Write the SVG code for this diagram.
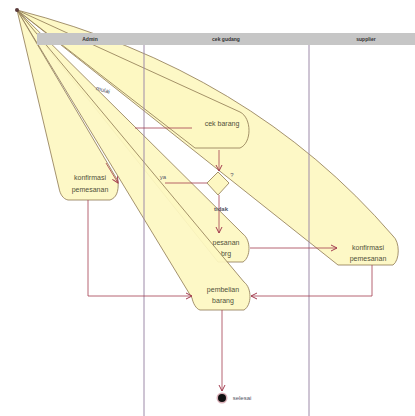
<svg xmlns="http://www.w3.org/2000/svg" width="415" height="416" viewBox="0 0 415 416">
<defs>
<style>
.fan{fill:#fdf7c2;fill-opacity:0.93;stroke:#8d7750;stroke-width:0.8}
.div{stroke:#9d8aa8;stroke-width:1}
.con{fill:none;stroke:#a33c4f;stroke-width:0.8}
.lbl{font-family:"Liberation Sans",Arial,sans-serif;font-size:7px;fill:#50503a;text-anchor:middle}
.hdr{font-family:"Liberation Sans",Arial,sans-serif;font-size:5px;font-weight:bold;fill:#333;text-anchor:middle}
.gd{font-family:"Liberation Sans",Arial,sans-serif;font-size:6px;fill:#556;text-anchor:middle}
</style>
<marker id="ar" markerWidth="8" markerHeight="8" refX="7" refY="4" orient="auto" markerUnits="userSpaceOnUse">
<path d="M1,1 L7,4 L1,7" fill="none" stroke="#a33c4f" stroke-width="1"/>
</marker>
</defs>
<rect width="415" height="416" fill="#ffffff"/>
<g id="node-konfirmasi-supplier">
<path class="fan" d="M17,10 Q250,70 393,236 C400,242 400,260 393,265 L338,265 Z"/>
<text class="lbl" x="368" y="250">konfirmasi</text>
<text class="lbl" x="368" y="261">pemesanan</text>
</g>
<g id="node-cek-barang">
<path class="fan" d="M17,10 L240,112 C252,118 252,143 240,148 L195,148 Z"/>
<text class="lbl" x="222" y="126">cek barang</text>
</g>
<g id="node-pesanan">
<path class="fan" d="M17,10 L243,234 C251,240 251,257 243,262 L218,262 Z"/>
<text class="lbl" x="226" y="245">pesanan</text>
<text class="lbl" x="226" y="256">brg</text>
</g>
<g id="node-pembelian">
<path class="fan" d="M17,10 L244,282 C252,288 252,305 244,310 L200,310 C196,309 193,303 192,298 Z"/>
<text class="lbl" x="223" y="292">pembelian</text>
<text class="lbl" x="223" y="303">barang</text>
</g>
<g id="node-konfirmasi-admin">
<path class="fan" d="M17,10 L118,181 C119,192 116,198 110,200 L68,200 C63,199 60,194 59,188 Z"/>
<text class="lbl" x="90" y="180">konfirmasi</text>
<text class="lbl" x="90" y="192">pemesanan</text>
</g>
<g id="header">
<rect x="37" y="33" width="378" height="12" fill="#c6c6c6"/>
<text class="hdr" x="90" y="41">Admin</text>
<text class="hdr" x="226" y="41">cek gudang</text>
<text class="hdr" x="366" y="41">supplier</text>
</g>
<g id="lanes">
<line class="div" x1="144" y1="45" x2="144" y2="416"/>
<line class="div" x1="309" y1="45" x2="309" y2="416"/>
</g>
<g id="start">
<circle cx="17" cy="10" r="2" fill="#5a3a3a"/>
<text class="gd" x="103" y="92" transform="rotate(15 103 90)">mulai</text>
</g>
<g id="decision">
<path d="M218,172 L229,183 L218,195 L207,183 Z" fill="#fdf7c2" stroke="#8d7750" stroke-width="0.8"/>
<text class="gd" x="232" y="177">?</text>
</g>
<g id="final">
<circle cx="222" cy="398" r="5.5" fill="#a33c4f" fill-opacity="0.4"/>
<circle cx="222" cy="398" r="4" fill="#111"/>
<text class="gd" x="242" y="400">selesai</text>
</g>
<g id="connectors">
<path class="con" d="M135,128 L192,128"/>
<path class="con" d="M219,150 L219,171" marker-end="url(#ar)"/>
<path class="con" d="M207,183 L165,183"/>
<text class="gd" x="163" y="179">ya</text>
<path class="con" d="M106,163 L118,183" marker-end="url(#ar)"/>
<path class="con" d="M219,195 L219,233" marker-end="url(#ar)"/>
<text class="gd" x="221" y="211" font-weight="bold">tidak</text>
<path class="con" d="M250,248 L337,248" marker-end="url(#ar)"/>
<path class="con" d="M88,200 L88,296 L192,296" marker-end="url(#ar)"/>
<path class="con" d="M372,265 L372,296 L251,296" marker-end="url(#ar)"/>
<path class="con" d="M222,310 L222,391" marker-end="url(#ar)"/>
</g>
</svg>
